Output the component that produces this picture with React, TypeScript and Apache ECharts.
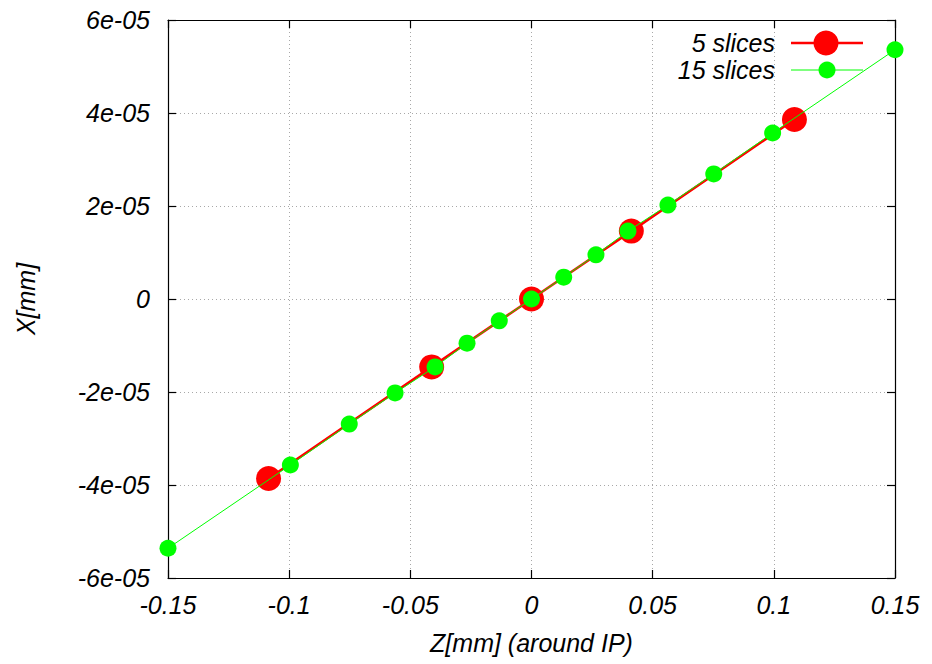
import React, { useEffect, useRef } from "react";
import * as echarts from "echarts";

const slices5Z = [-0.1085, -0.0412, 0, 0.0412, 0.1085];
const slices5X = [-3.86e-5, -1.46e-5, 0, 1.46e-5, 3.86e-5];

const slices15Z = [-0.15, -0.0995, -0.0752, -0.0563, -0.0398, -0.0266, -0.0133, 0, 0.0133, 0.0266, 0.0398, 0.0563, 0.0752, 0.0995, 0.15];
const slices15X = [-5.36e-5, -3.57e-5, -2.69e-5, -2.02e-5, -1.46e-5, -0.95e-5, -0.47e-5, 0, 0.47e-5, 0.95e-5, 1.46e-5, 2.02e-5, 2.69e-5, 3.57e-5, 5.36e-5];

const seriesNames = ["5 slices", "15 slices"];
const xTitle = "Z[mm] (around IP)";
const yTitle = "X[mm]";

const FONT = "'Liberation Sans', Arial, sans-serif";
const FS = 25;

function fmtY(v: number): string {
  if (Math.abs(v) < 1e-12) return "0";
  const s = v.toExponential(0);
  return s.replace(/e([+-])(\d)$/, "e$10$2");
}
function fmtX(v: number): string {
  if (Math.abs(v) < 1e-9) return "0";
  return String(Number(v.toFixed(2)));
}

export default function App() {
  const ref = useRef<HTMLDivElement>(null);
  useEffect(() => {
    if (!ref.current) return;
    const chart = echarts.init(ref.current, undefined, { renderer: "svg" });
    const gridLine = { show: true, lineStyle: { color: "#a8a8a8", type: [1, 3] as any, width: 1 } };
    const axisLine = { show: true, onZero: false, lineStyle: { color: "#000", width: 1.2 } };
    const tick = { show: true, inside: true, length: 8, lineStyle: { color: "#000", width: 1.2 } };
    const labelStyle = { color: "#000", fontFamily: FONT, fontSize: FS, fontStyle: "italic" as const };
    chart.setOption({
      animation: false,
      backgroundColor: "#fff",
      grid: { left: 168, right: 37, top: 20, bottom: 86, containLabel: false },
      xAxis: [
        {
          type: "value", position: "bottom", min: -0.15, max: 0.15, interval: 0.05,
          axisLine, axisTick: tick, splitLine: gridLine,
          axisLabel: { ...labelStyle, margin: 14, formatter: fmtX },
          name: xTitle, nameLocation: "middle", nameGap: 52,
          nameTextStyle: { ...labelStyle },
        },
        {
          type: "value", position: "top", min: -0.15, max: 0.15, interval: 0.05,
          axisLine, axisTick: tick, splitLine: { show: false }, axisLabel: { show: false },
        },
      ],
      yAxis: [
        {
          type: "value", position: "left", min: -6e-5, max: 6e-5, interval: 2e-5,
          axisLine, axisTick: tick, splitLine: gridLine,
          axisLabel: { ...labelStyle, margin: 18, formatter: fmtY },
          name: yTitle, nameLocation: "middle", nameGap: 130,
          nameTextStyle: { ...labelStyle },
        },
        {
          type: "value", position: "right", min: -6e-5, max: 6e-5, interval: 2e-5,
          axisLine, axisTick: tick, splitLine: { show: false }, axisLabel: { show: false },
        },
      ],
      series: [
        {
          name: seriesNames[0], type: "line",
          data: slices5Z.map((z, i) => [z, slices5X[i]]),
          symbol: "circle", symbolSize: 25,
          lineStyle: { color: "#ff0000", width: 2.5 },
          itemStyle: { color: "#ff0000" },
          z: 2,
        },
        {
          name: seriesNames[1], type: "line",
          data: slices15Z.map((z, i) => [z, slices15X[i]]),
          symbol: "circle", symbolSize: 17,
          lineStyle: { color: "#00ff00", width: 1 },
          itemStyle: { color: "#00ff00" },
          z: 3,
        },
      ],
      graphic: [
        { type: "text", right: 932 - 775, top: 30, style: { text: seriesNames[0], fill: "#000", font: `italic ${FS}px ${FONT}` } },
        { type: "line", shape: { x1: 791, y1: 43, x2: 863, y2: 43 }, style: { stroke: "#ff0000", lineWidth: 2.5 } },
        { type: "circle", shape: { cx: 826, cy: 43, r: 12.5 }, style: { fill: "#ff0000" } },
        { type: "text", right: 932 - 775, top: 57, style: { text: seriesNames[1], fill: "#000", font: `italic ${FS}px ${FONT}` } },
        { type: "line", shape: { x1: 791, y1: 70, x2: 863, y2: 70 }, style: { stroke: "#00ff00", lineWidth: 1 } },
        { type: "circle", shape: { cx: 827, cy: 70, r: 8.5 }, style: { fill: "#00ff00" } },
      ],
    });
    return () => chart.dispose();
  }, []);
  return <div ref={ref} style={{ position: "fixed", left: 0, top: 0, width: 932, height: 664 }} />;
}
